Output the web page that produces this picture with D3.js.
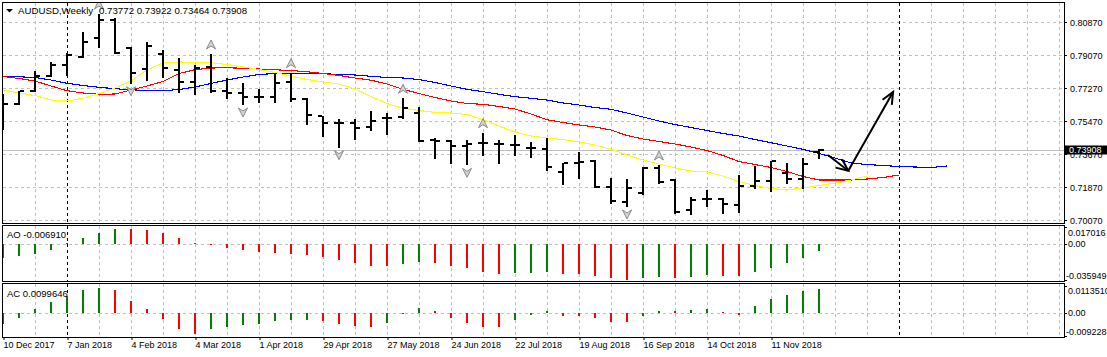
<!DOCTYPE html>
<html><head><meta charset="utf-8">
<script src="https://cdn.jsdelivr.net/npm/d3@7"></script>
<style>
html,body{margin:0;padding:0;background:#fff;overflow:hidden;}
svg{display:block;font-family:"Liberation Sans",Arial,sans-serif;}
</style></head><body><svg id="c" width="1107" height="357"></svg>
<script>
// ---------------- data ----------------
const symbolTitle = "AUDUSD,Weekly";
const lastQuote = ["0.73772", "0.73922", "0.73464", "0.73908"];
const dateLabels = ["10 Dec 2017","7 Jan 2018","4 Feb 2018","4 Mar 2018","1 Apr 2018","29 Apr 2018","27 May 2018","24 Jun 2018","22 Jul 2018","19 Aug 2018","16 Sep 2018","14 Oct 2018","11 Nov 2018"];
const dateLabelBars = [0,4,8,12,16,20,24,28,32,36,40,44,48];
const yearSeparators = [4, 56];

const opens = [0.75415,0.76381,0.77123,0.77925,0.78508,0.78977,0.80014,0.80979,0.79452,0.78290,0.79125,0.78252,0.77614,0.78432,0.77123,0.77014,0.76763,0.76763,0.77614,0.76654,0.75759,0.75377,0.75377,0.75159,0.75617,0.75705,0.75890,0.74434,0.74396,0.74106,0.74286,0.74216,0.74161,0.73997,0.73926,0.72705,0.73196,0.73288,0.71854,0.71068,0.71526,0.72890,0.72252,0.70615,0.71199,0.71199,0.70888,0.71925,0.72214,0.72617,0.72306,0.73772];
const highs = [0.76926,0.77123,0.78214,0.78705,0.79195,0.80341,0.81306,0.81072,0.79490,0.79795,0.79343,0.78890,0.78525,0.79125,0.77799,0.77526,0.77199,0.78072,0.78105,0.76708,0.75759,0.75596,0.75596,0.76032,0.75890,0.76708,0.76250,0.74526,0.74434,0.74434,0.74832,0.74434,0.74706,0.74341,0.74526,0.73163,0.73796,0.73343,0.72345,0.72290,0.72977,0.73070,0.72290,0.71341,0.71706,0.71254,0.72525,0.73016,0.73288,0.73196,0.73436,0.73922];
const lows = [0.75017,0.76381,0.77123,0.77925,0.77979,0.78977,0.79523,0.79195,0.77559,0.77706,0.77886,0.77068,0.76943,0.77068,0.76708,0.76397,0.76523,0.76523,0.76577,0.75290,0.74668,0.74068,0.74472,0.74979,0.74761,0.75617,0.74396,0.73436,0.73196,0.73108,0.73616,0.73163,0.73616,0.73523,0.72797,0.72017,0.72345,0.71854,0.71014,0.70834,0.71488,0.72072,0.70468,0.70397,0.70834,0.70452,0.70506,0.71799,0.71652,0.72072,0.71799,0.73464];
const closes = [0.76381,0.77106,0.77925,0.78508,0.79070,0.79795,0.80979,0.79195,0.78105,0.79561,0.78345,0.77614,0.78377,0.77123,0.76981,0.76796,0.76763,0.77559,0.76670,0.75797,0.75377,0.75377,0.75105,0.75443,0.75617,0.76163,0.74396,0.74379,0.74106,0.74216,0.74286,0.74216,0.74161,0.73997,0.72977,0.73163,0.73250,0.71886,0.71106,0.71799,0.72890,0.72159,0.70523,0.71161,0.71199,0.70943,0.71925,0.72214,0.73288,0.72306,0.73125,0.73908];

// Alligator (already shifted forward: jaw +8, teeth +5, lips +3 bars)
const jaw = [0.77908,0.77881,0.77843,0.77706,0.77526,0.77406,0.77308,0.77232,0.77172,0.77134,0.77123,0.77188,0.77325,0.77516,0.77706,0.77870,0.78006,0.78061,0.78072,0.78072,0.78045,0.78017,0.77979,0.77908,0.77843,0.77815,0.77734,0.77570,0.77379,0.77199,0.77068,0.76926,0.76796,0.76708,0.76615,0.76452,0.76343,0.76206,0.76108,0.75906,0.75688,0.75470,0.75279,0.75115,0.74952,0.74788,0.74652,0.74461,0.74286,0.74106,0.73926,0.73697,0.73452,0.73179,0.73097,0.73043,0.72988,0.72961,0.72934,0.73016];
const teeth = [0.77897,0.77788,0.77652,0.77379,0.77123,0.76997,0.76926,0.76943,0.77161,0.77379,0.77625,0.78061,0.78268,0.78361,0.78372,0.78350,0.78306,0.78263,0.78225,0.78154,0.78061,0.77952,0.77815,0.77696,0.77488,0.77199,0.76970,0.76752,0.76561,0.76425,0.76381,0.76261,0.76125,0.75852,0.75541,0.75388,0.75252,0.75143,0.74979,0.74679,0.74488,0.74352,0.74216,0.74052,0.73861,0.73588,0.73261,0.73097,0.72934,0.72716,0.72443,0.72252,0.72252,0.72252,0.72306,0.72388,0.72525];
const lips = [0.77161,0.76997,0.76861,0.76615,0.76561,0.76708,0.76970,0.77270,0.77652,0.78252,0.78634,0.78688,0.78672,0.78650,0.78552,0.78416,0.78279,0.78116,0.77925,0.77734,0.77597,0.77488,0.77216,0.76806,0.76425,0.76163,0.76043,0.75934,0.75906,0.75825,0.75552,0.75197,0.74870,0.74652,0.74543,0.74461,0.74325,0.74161,0.73943,0.73616,0.73343,0.73125,0.72906,0.72743,0.72688,0.72470,0.72170,0.71952,0.71788,0.71706,0.71816,0.71952,0.72088,0.72252,0.72470];

const fractalUp = [6,13,18,25,30,41];
const fractalDown = [8,15,21,29,39];

const ao = [-0.0133,-0.0113,-0.0093,-0.0053,0.0009,0.0060,0.0110,0.0156,0.0152,0.0143,0.0117,0.0063,0.0013,-0.0005,-0.0033,-0.0057,-0.0077,-0.0087,-0.0097,-0.0107,-0.0127,-0.0157,-0.0187,-0.0213,-0.0215,-0.0193,-0.0177,-0.0187,-0.0213,-0.0237,-0.0277,-0.0293,-0.0287,-0.0283,-0.0277,-0.0293,-0.0297,-0.0313,-0.0337,-0.035949,-0.0337,-0.0327,-0.0337,-0.0327,-0.0303,-0.0313,-0.0317,-0.0273,-0.0237,-0.0187,-0.0137,-0.00691];
const aoFirstRising = false;
const ac = [-0.00449,-0.00176,0.00192,0.00461,0.00706,0.00951,0.01033,0.00955,0.00504,0.00176,-0.00234,-0.00643,-0.00848,-0.00643,-0.00561,-0.00463,-0.00439,-0.00316,-0.00275,-0.00258,-0.00316,-0.00422,-0.00520,-0.00546,-0.00383,0.00020,0.00219,0.00096,-0.00178,-0.00383,-0.00546,-0.00560,-0.00260,-0.00060,0.00096,-0.00110,-0.00130,-0.00178,-0.00355,-0.00360,-0.00110,0.00096,0.00090,0.00137,0.00178,0.00040,-0.00080,0.00300,0.00586,0.00750,0.00914,0.0099646];
const acFirstRising = true;

const priceTicks = [0.70070,0.71870,0.73670,0.75470,0.77270,0.79070,0.80870];
const aoScaleLabels = ["0.017016","0.00","-0.035949"];
const aoScaleValues = [0.017016,0,-0.035949];
const acScaleLabels = ["0.0113510","0.00","-0.009228"];
const acScaleValues = [0.011351,0,-0.009228];

// hand-drawn trend arrows (bar index, price)
const trendArrows = [
  {from:[51.56,0.73616], to:[52.83,0.72759]},
  {from:[52.83,0.72759], to:[55.63,0.77052]}
];

// ---------------- layout ----------------
const L = 2, R = 1064;
const main = {top:2, bottom:223};
const aoP = {top:225, bottom:281};
const acP = {top:283, bottom:337};

const svg = d3.select("#c");
const X = d3.scaleLinear().domain([0,66]).range([3,1059]);
const Y = d3.scaleLinear().domain([0.70070,0.80870]).range([220,22]);
const YAO = d3.scaleLinear().domain([-0.035949,0.017016]).range([280.2,227.3]);
const YAC = d3.scaleLinear().domain([-0.009228,0.011351]).range([335.8,285.6]);

const gridColor = "#c0c0c0";
const dash = "3,3";

function clip(id, p){
  svg.append("clipPath").attr("id",id).append("rect")
    .attr("x",L+1).attr("y",p.top+1).attr("width",R-L-1).attr("height",p.bottom-p.top-1);
}
clip("cm",main); clip("cao",aoP); clip("cac",acP);

const gridIdx = d3.range(2,67,2);
[main,aoP,acP].forEach(p=>{
  svg.append("g").selectAll("line").data(gridIdx).join("line")
    .attr("x1",d=>Math.round(X(d))+0.5).attr("x2",d=>Math.round(X(d))+0.5)
    .attr("y1",p.top+1).attr("y2",p.bottom)
    .attr("stroke",gridColor).attr("stroke-dasharray",dash);
});
svg.append("g").selectAll("line").data(priceTicks).join("line")
  .attr("x1",L+1).attr("x2",R).attr("y1",d=>Math.round(Y(d))+0.5).attr("y2",d=>Math.round(Y(d))+0.5)
  .attr("stroke",gridColor).attr("stroke-dasharray",dash);
svg.append("line").attr("x1",L+1).attr("x2",R).attr("y1",Math.round(YAO(0))+0.5).attr("y2",Math.round(YAO(0))+0.5).attr("stroke",gridColor).attr("stroke-dasharray",dash);
svg.append("line").attr("x1",L+1).attr("x2",R).attr("y1",Math.round(YAC(0))+0.5).attr("y2",Math.round(YAC(0))+0.5).attr("stroke",gridColor).attr("stroke-dasharray",dash);

[main,aoP,acP].forEach(p=>{
  svg.append("g").selectAll("line").data(yearSeparators).join("line")
    .attr("x1",d=>Math.round(X(d))+0.5).attr("x2",d=>Math.round(X(d))+0.5)
    .attr("y1",p.top+1).attr("y2",p.bottom)
    .attr("stroke","#000").attr("stroke-dasharray",dash);
});

const lastClose = closes[closes.length-1];
svg.append("line").attr("x1",L+1).attr("x2",R).attr("y1",Math.round(Y(lastClose))+0.5).attr("y2",Math.round(Y(lastClose))+0.5).attr("stroke",gridColor);

const gm = svg.append("g").attr("clip-path","url(#cm)");
const lineGen = d3.line().x((d,i)=>X(i)).y(d=>Y(d));
[[jaw,"#0000ff"],[teeth,"#ff0000"],[lips,"#ffff00"]].forEach(([s,c])=>{
  gm.append("path").attr("d",lineGen(s)).attr("fill","none").attr("stroke",c).attr("stroke-width",1.1).attr("shape-rendering","crispEdges");
});

const bars = gm.append("g").attr("fill","#000");
closes.forEach((c,i)=>{
  const x = Math.round(X(i));
  const yh = Math.round(Y(highs[i])), yl = Math.round(Y(lows[i]));
  bars.append("rect").attr("x",x-1).attr("y",yh).attr("width",2).attr("height",Math.max(2,yl-yh+1));
  bars.append("rect").attr("x",x-5).attr("y",Math.round(Y(opens[i]))-1).attr("width",4).attr("height",2);
  bars.append("rect").attr("x",x+1).attr("y",Math.round(Y(c))-1).attr("width",4).attr("height",2);
});

const fr = gm.append("g");
fractalUp.forEach(i=>{
  const x = X(i), y = Y(highs[i]) - 5;
  fr.append("path").attr("d",`M${x},${y-9} L${x+4.5},${y} L${x},${y-3} L${x-4.5},${y} Z`)
    .attr("fill","#d4d4d4").attr("stroke","#8a8a8a").attr("stroke-width",1);
});
fractalDown.forEach(i=>{
  const x = X(i), y = Y(lows[i]) + 4;
  fr.append("path").attr("d",`M${x},${y+9} L${x+4.5},${y} L${x},${y+3} L${x-4.5},${y} Z`)
    .attr("fill","#d4d4d4").attr("stroke","#8a8a8a").attr("stroke-width",1);
});

const ta = gm.append("g").attr("stroke","#000").attr("stroke-width",2).attr("fill","none");
trendArrows.forEach(a=>{
  const x1=X(a.from[0]), y1=Y(a.from[1]), x2=X(a.to[0]), y2=Y(a.to[1]);
  ta.append("line").attr("x1",x1).attr("y1",y1).attr("x2",x2).attr("y2",y2);
  const ang = Math.atan2(y2-y1,x2-x1), len=13, sp=0.42;
  ta.append("path").attr("d",`M${x2-len*Math.cos(ang-sp)},${y2-len*Math.sin(ang-sp)} L${x2},${y2} L${x2-len*Math.cos(ang+sp)},${y2-len*Math.sin(ang+sp)}`);
});

function hist(vals, scale, firstRising, clipId){
  const g = svg.append("g").attr("clip-path",`url(#${clipId})`);
  const z = Math.round(scale(0));
  vals.forEach((v,i)=>{
    const rising = i===0 ? firstRising : v > vals[i-1];
    const y = Math.round(scale(v));
    g.append("rect").attr("x",Math.round(X(i))-1).attr("width",2)
      .attr("y",Math.min(y,z)).attr("height",Math.max(1,Math.abs(y-z)))
      .attr("fill",rising?"#008000":"#ff0000");
  });
}
hist(ao,YAO,aoFirstRising,"cao");
hist(ac,YAC,acFirstRising,"cac");

[main,aoP,acP].forEach(p=>{
  svg.append("rect").attr("x",L+0.5).attr("y",p.top+0.5).attr("width",R-L).attr("height",p.bottom-p.top)
    .attr("fill","none").attr("stroke","#000");
});

const fs = "9px";
const ax = svg.append("g").attr("font-size",fs).attr("fill","#000");
priceTicks.forEach(v=>{
  const y = Math.round(Y(v))+0.5;
  ax.append("line").attr("x1",R).attr("x2",R+3).attr("y1",y).attr("y2",y).attr("stroke","#000");
  ax.append("text").attr("x",1070).attr("y",y).attr("dy","0.35em").text(v.toFixed(5));
});
const yc = Math.round(Y(lastClose));
svg.append("rect").attr("x",1065).attr("y",yc-4.5).attr("width",42).attr("height",9).attr("fill","#000");
svg.append("text").attr("x",1069).attr("y",yc).attr("dy","0.36em").attr("font-size",fs).attr("fill","#fff").text(lastQuote[3]);

function subAxis(vals, labels, scale, p){
  vals.forEach((v,i)=>{
    let y = scale(v);
    y = Math.max(p.top+7.5, Math.min(p.bottom-5.5, y));
    ax.append("line").attr("x1",R).attr("x2",R+3).attr("y1",Math.round(scale(v))+0.5).attr("y2",Math.round(scale(v))+0.5).attr("stroke","#000");
    ax.append("text").attr("x",labels[i].startsWith("-")?1066:1068).attr("y",y).attr("dy","0.35em").text(labels[i]);
  });
}
subAxis(aoScaleValues,aoScaleLabels,YAO,aoP);
subAxis(acScaleValues,acScaleLabels,YAC,acP);

const xa = d3.axisBottom(X).tickValues(dateLabelBars).tickSize(3).tickFormat((d,i)=>dateLabels[i]);
const xg = svg.append("g").attr("transform",`translate(0,${acP.bottom})`).call(xa);
xg.select(".domain").remove();
xg.selectAll(".tick line").attr("stroke","#000").attr("transform","translate(0.5,0)");
xg.selectAll(".tick text").attr("text-anchor","start").attr("x",0).attr("y",5).attr("dy","0.71em")
  .attr("font-size",fs).attr("font-family","Liberation Sans, Arial, sans-serif").attr("fill","#000");

svg.append("path").attr("d","M6,9 L13,9 L9.5,12.5 Z").attr("fill","#000");
svg.append("text").attr("x",18).attr("y",11).attr("dy","0.35em").attr("font-size","9.7px").text(symbolTitle);
svg.append("text").attr("x",99).attr("y",11).attr("dy","0.35em").attr("font-size","9.7px").text(lastQuote.join(" "));
svg.append("text").attr("x",7).attr("y",235).attr("dy","0.35em").attr("font-size","9.5px").text("AO " + ao[ao.length-1].toFixed(6));
svg.append("text").attr("x",7).attr("y",293.5).attr("dy","0.35em").attr("font-size","9.5px").text("AC " + ac[ac.length-1].toFixed(7));
</script></body></html>
